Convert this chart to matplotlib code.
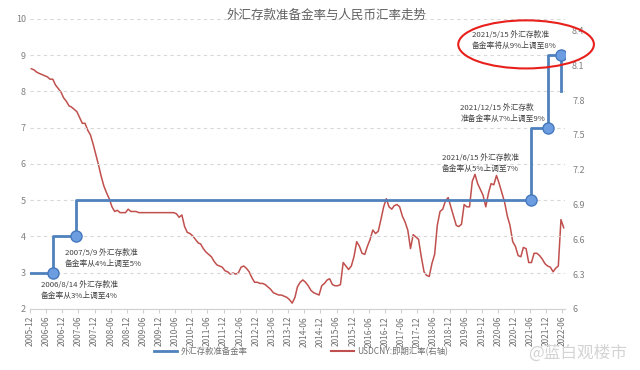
import numpy as np
import pandas as pd
import matplotlib
matplotlib.use("Agg")
from matplotlib import pyplot as plt
from matplotlib.patches import Ellipse
from matplotlib.lines import Line2D

plt.rcParams['font.family'] = ['Noto Sans CJK SC', 'DejaVu Sans']

# foreign-currency deposit reserve ratio (%), step changes
rrr_dates = ['2005-12-01', '2006-08-14', '2007-05-09', '2021-06-15', '2021-12-15', '2022-05-15']
rrr_values = [3, 4, 5, 7, 9, 8]

# USDCNY spot, monthly, 2005-12 .. 2022-06
usdcny = [
    8.07,
    8.06, 8.04, 8.03, 8.02, 8.01, 8.00, 7.98, 7.98, 7.93, 7.90, 7.87, 7.82,   # 2006
    7.79, 7.75, 7.74, 7.72, 7.70, 7.65, 7.60, 7.60, 7.54, 7.50, 7.42, 7.33,   # 2007
    7.24, 7.14, 7.06, 7.00, 6.95, 6.88, 6.84, 6.85, 6.83, 6.83, 6.83, 6.86,   # 2008
    6.84, 6.84, 6.84, 6.83, 6.83, 6.83, 6.83, 6.83, 6.83, 6.83, 6.83, 6.83,   # 2009
    6.83, 6.83, 6.83, 6.83, 6.83, 6.82, 6.79, 6.81, 6.71, 6.66, 6.65, 6.63,   # 2010
    6.60, 6.57, 6.56, 6.52, 6.49, 6.47, 6.45, 6.41, 6.38, 6.37, 6.36, 6.33,   # 2011
    6.32, 6.30, 6.31, 6.30, 6.31, 6.36, 6.37, 6.35, 6.32, 6.27, 6.23, 6.23,   # 2012
    6.22, 6.22, 6.21, 6.19, 6.17, 6.14, 6.13, 6.12, 6.12, 6.11, 6.10, 6.08,   # 2013
    6.05, 6.10, 6.19, 6.23, 6.25, 6.23, 6.20, 6.16, 6.14, 6.13, 6.12, 6.20,   # 2014
    6.22, 6.25, 6.26, 6.21, 6.20, 6.20, 6.21, 6.40, 6.37, 6.34, 6.37, 6.45,   # 2015
    6.58, 6.54, 6.48, 6.47, 6.54, 6.60, 6.68, 6.65, 6.67, 6.77, 6.88, 6.95,   # 2016
    6.88, 6.86, 6.89, 6.90, 6.88, 6.80, 6.75, 6.68, 6.52, 6.64, 6.62, 6.60,   # 2017
    6.45, 6.32, 6.29, 6.28, 6.39, 6.47, 6.72, 6.84, 6.86, 6.93, 6.96, 6.88,   # 2018
    6.80, 6.72, 6.71, 6.73, 6.90, 6.88, 6.88, 7.10, 7.16, 7.08, 7.03, 6.98,   # 2019
    6.88, 7.00, 7.08, 7.07, 7.15, 7.08, 7.00, 6.92, 6.80, 6.72, 6.58, 6.54,   # 2020
    6.46, 6.45, 6.53, 6.52, 6.40, 6.40, 6.48, 6.48, 6.46, 6.43, 6.39, 6.37,   # 2021
    6.36, 6.32, 6.35, 6.37, 6.77, 6.70,                                       # 2022
]

notes = [
    ('2006/8/14 外汇存款准\n备金率从3%上调至4%', '2006-04-01', 2.5),
    ('2007/5/9 外汇存款准\n备金率从4%上调至5%', '2007-01-01', 3.4),
    ('2021/6/15 外汇存款准\n备金率从5%上调至7%', '2018-09-01', 6.0),
    ('2021/12/15 外汇存款\n准备金率从7%上调至9%', '2019-04-01', 7.38),
    ('2021/5/15 外汇存款准\n备金率将从9%上调至8%', '2019-08-15', 9.4),
]

blue = '#4f81bd'
red = '#c0504d'
gray = '#707070'

fx_dates = pd.date_range('2005-12-01', periods=len(usdcny), freq='MS') + pd.Timedelta(days=14)
rrr_dt = pd.to_datetime(rrr_dates)

fig = plt.figure(figsize=(6.4, 3.7), dpi=100)
ax = fig.add_axes([0.047, 0.165, 0.836, 0.784])
ax2 = ax.twinx()

ax.step(rrr_dt, rrr_values, where='post', color=blue, lw=2, zorder=3)
ax.plot(rrr_dt[1:], rrr_values[:-1], 'o', ms=8, mfc='#6b9de0', mec='#4678bd', mew=1, zorder=4)
ax2.plot(fx_dates, usdcny, color=red, lw=1.1)
ax.set_zorder(ax2.get_zorder() + 1)
ax.patch.set_visible(False)

xmin, xmax = pd.Timestamp('2005-12-01'), pd.Timestamp('2022-07-01')
ax.set_xlim(xmin, xmax)
ax.set_ylim(2, 10)
ax2.set_ylim(6, 8.5)
ax.set_yticks(range(2, 11))
rt = np.round(np.arange(6, 8.41, 0.3), 1)
ax2.set_yticks(rt)
ax2.set_yticklabels([f'{v:g}' for v in rt])

xt = pd.date_range('2005-12-01', '2022-06-01', freq='6MS')
ax.set_xticks(xt)
ax.set_xticklabels([d.strftime('%Y-%m') for d in xt], rotation=90, fontsize=6, color=gray)

ax.grid(axis='y', ls=(0, (3, 3)), color='#d8d8d8', lw=0.8)
for a in (ax, ax2):
    for s in a.spines.values():
        s.set_visible(False)
    a.tick_params(axis='y', length=0, labelsize=6.5, labelcolor='#808080')
ax.spines['bottom'].set_visible(True)
ax.spines['bottom'].set_color('#d0d0d0')
ax.tick_params(axis='x', length=3, color='#d0d0d0', pad=2)
ax.tick_params(axis='y', pad=3)
ax2.tick_params(axis='y', pad=5)

for txt, d, y in notes:
    ax.text(pd.Timestamp(d), y, txt, fontsize=5.6, color='#404040', linespacing=1.5,
            va='center', ha='left', zorder=5)

fig.text(0.51, 0.959, '外汇存款准备金率与人民币汇率走势', fontsize=9, color='#606060',
         ha='center', va='center')

fig.patches.append(Ellipse((0.822, 0.88), 0.212, 0.13, transform=fig.transFigure,
                           fill=False, ec='#e8201c', lw=1.5))

handles = [Line2D([], [], color=blue, lw=2), Line2D([], [], color=red, lw=1.5)]
fig.legend(handles, ['外汇存款准备金率', 'USDCNY:即期汇率(右轴)'], loc='center',
           bbox_to_anchor=(0.47, 0.05), ncol=2, frameon=False, fontsize=6,
           labelcolor='#707070', handlelength=2.8, handletextpad=0.4, columnspacing=10)

fig.text(0.98, 0.045, '@蓝白观楼市', fontsize=12, color='#d4d4d4', ha='right', va='center')

fig.savefig('out.png', dpi=100)
